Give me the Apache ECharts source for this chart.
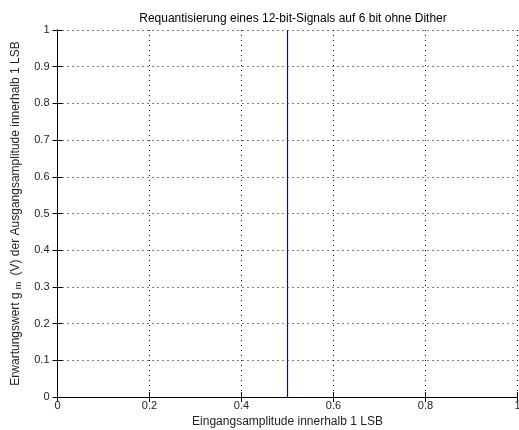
<!DOCTYPE html>
<html><head><meta charset="utf-8">
<script src="https://cdn.jsdelivr.net/npm/echarts@6/dist/echarts.min.js"></script>
<style>html,body{margin:0;padding:0;background:#fff}#c{width:519px;height:430px}</style>
</head><body><div id="c"></div>
<script>
const titleText = 'Requantisierung eines 12-bit-Signals auf 6 bit ohne Dither';
const xName = 'Eingangsamplitude innerhalb 1 LSB';
const yNameParts = ['Erwartungswert g', 'm', ' (V) der Ausgangsamplitude innerhalb 1 LSB'];
const xTicks = [0, 0.2, 0.4, 0.6, 0.8, 1];
const yTicks = [0, 0.1, 0.2, 0.3, 0.4, 0.5, 0.6, 0.7, 0.8, 0.9, 1];
const lineX = [0.5, 0.5];
const lineY = [0, 1];

const chart = echarts.init(document.getElementById('c'));
const font = 'Liberation Sans, Arial, sans-serif';
const fmt = v => String(Math.round(v * 10) / 10);
const baseAxis = {
  axisLine: {show: true, lineStyle: {color: '#000', width: 1}},
  axisTick: {show: true, inside: true, length: 5, lineStyle: {color: '#000'}},
  splitLine: {show: false}
};
chart.setOption({
  animation: false,
  title: {text: titleText, left: 288, top: 8, textAlign: 'center',
    textStyle: {fontFamily: font, fontSize: 12, fontWeight: 'normal', color: '#000'}},
  grid: {left: 57.5, right: 1.5, top: 30, bottom: 33, containLabel: false, outerBoundsMode: 'none'},
  xAxis: [
    Object.assign({}, baseAxis, {type: 'value', min: 0, max: 1, interval: 0.2, position: 'bottom',
      name: xName, nameLocation: 'middle', nameGap: 13,
      nameTextStyle: {fontFamily: font, fontSize: 12, color: '#222'},
      axisLabel: {show: true, margin: 3, fontFamily: font, fontSize: 11, color: '#222', formatter: fmt},
      splitLine: {show: true, lineStyle: {color: '#000', type: [1, 4], width: 1}}}),
    Object.assign({}, baseAxis, {type: 'value', min: 0, max: 1, interval: 0.2, position: 'top',
      axisLabel: {show: false}})
  ],
  yAxis: [
    Object.assign({}, baseAxis, {type: 'value', min: 0, max: 1, interval: 0.1, position: 'left',
      name: yNameParts[0] + '{sub|' + yNameParts[1] + '}' + yNameParts[2],
      nameLocation: 'middle', nameGap: 33,
      nameTextStyle: {fontFamily: font, fontSize: 12, color: '#222',
        rich: {sub: {fontFamily: font, fontSize: 9, color: '#222', verticalAlign: 'bottom', padding: [7, 3, 0, 3]}}},
      axisLabel: {show: true, margin: 8, fontFamily: font, fontSize: 11, color: '#222', formatter: fmt},
      splitLine: {show: true, lineStyle: {color: '#000', type: [1, 4], width: 1}}}),
    Object.assign({}, baseAxis, {type: 'value', min: 0, max: 1, interval: 0.1, position: 'right',
      axisLabel: {show: false}})
  ],
  series: [{
    type: 'line', xAxisIndex: 0, yAxisIndex: 0, symbol: 'none', z: 5,
    data: lineX.map((x, i) => [x, lineY[i]]),
    lineStyle: {color: '#0000ff', width: 1.2}
  }]
});
</script></body></html>
